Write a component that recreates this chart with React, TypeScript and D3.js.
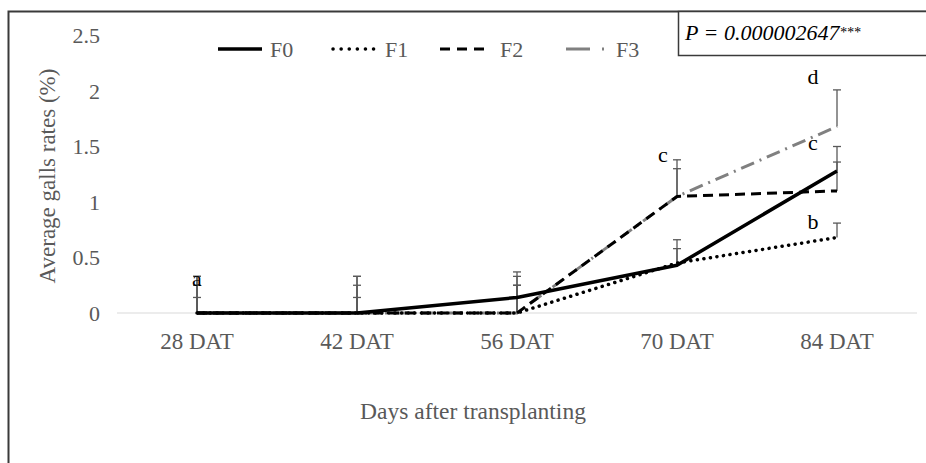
import * as d3 from 'd3'
import { useEffect, useRef } from 'react'

const categories = ['28 DAT', '42 DAT', '56 DAT', '70 DAT', '84 DAT']
const seriesNames = ['F0', 'F1', 'F2', 'F3']
const f0 = [0, 0, 0.14, 0.43, 1.28]
const f1 = [0, 0, 0, 0.45, 0.68]
const f2 = [0, 0, 0, 1.05, 1.1]
const f3 = [0, 0, 0, 1.05, 1.68]
const f0Err = [0.14, 0.14, 0.23, 0.23, 0.08]
const f1Err = [0.25, 0.25, 0.33, 0.13, 0.13]
const f2Err = [0.33, 0.33, 0.25, 0.33, 0.4]
const f3Err = [0.33, 0.33, 0.25, 0.25, 0.33]
const yTicks = [0, 0.5, 1, 1.5, 2, 2.5]
// significance letters: category, value the letter sits at, letter
const letterCats = ['28 DAT', '70 DAT', '84 DAT', '84 DAT', '84 DAT']
const letterVals = [0.3, 1.42, 2.12, 1.53, 0.82]
const letterText = ['a', 'c', 'd', 'c', 'b']
const pText = 'P = 0.000002647'

export default function App() {
  const ref = useRef<SVGSVGElement>(null)

  useEffect(() => {
    const svg = d3.select(ref.current)
    svg.selectAll('*').remove()

    const width = 926,
      height = 463
    const font = '"Liberation Serif", "Times New Roman", serif'
    const grey = '#595959'

    const x = d3.scalePoint<string>().domain(categories).range([117, 917]).padding(0.5)
    const y = d3.scaleLinear().domain([0, 2.5]).range([313, 35.5])

    svg.attr('width', width).attr('height', height)

    // outer frame (right/bottom edges lie outside the picture)
    svg
      .append('path')
      .attr('d', `M8.5,${height + 5} V11.5 H${width + 5}`)
      .attr('fill', 'none')
      .attr('stroke', '#3a3a3a')
      .attr('stroke-width', 2)

    // baseline
    svg
      .append('line')
      .attr('x1', 117)
      .attr('x2', 917)
      .attr('y1', y(0))
      .attr('y2', y(0))
      .attr('stroke', '#d9d9d9')
      .attr('stroke-width', 1.2)

    // y tick labels
    svg
      .append('g')
      .selectAll('text')
      .data(yTicks)
      .join('text')
      .attr('x', 100)
      .attr('y', (d) => y(d))
      .attr('dy', '0.35em')
      .attr('text-anchor', 'end')
      .attr('font-family', font)
      .attr('font-size', 22)
      .attr('fill', grey)
      .text((d) => d3.format('~g')(d))

    // x tick labels
    svg
      .append('g')
      .selectAll('text')
      .data(categories)
      .join('text')
      .attr('x', (d) => x(d)!)
      .attr('y', 349)
      .attr('text-anchor', 'middle')
      .attr('font-family', font)
      .attr('font-size', 23)
      .attr('fill', grey)
      .text((d) => d)

    // axis titles
    svg
      .append('text')
      .attr('transform', 'translate(55,176) rotate(-90)')
      .attr('text-anchor', 'middle')
      .attr('font-family', font)
      .attr('font-size', 23)
      .attr('fill', grey)
      .text('Average galls rates (%)')

    svg
      .append('text')
      .attr('x', 473)
      .attr('y', 419)
      .attr('text-anchor', 'middle')
      .attr('font-family', font)
      .attr('font-size', 23.5)
      .attr('fill', grey)
      .text('Days after transplanting')

    const values = [f0, f1, f2, f3]
    const errs = [f0Err, f1Err, f2Err, f3Err]
    const styles = [
      { stroke: '#000', width: 3.5, dash: null, cap: 'butt' },
      { stroke: '#000', width: 3.5, dash: '0.1 6.5', cap: 'round' },
      { stroke: '#000', width: 3, dash: '10 6', cap: 'butt' },
      { stroke: '#808080', width: 3, dash: '14 6 2 6', cap: 'butt' },
    ]

    // error bars (plus only)
    values.forEach((vals, s) => {
      const g = svg.append('g').attr('stroke', grey).attr('stroke-width', 1.3)
      vals.forEach((v, i) => {
        const cx = x(categories[i])!
        const top = y(v + errs[s][i])
        g.append('line').attr('x1', cx).attr('x2', cx).attr('y1', y(v)).attr('y2', top)
        g.append('line')
          .attr('x1', cx - 4)
          .attr('x2', cx + 4)
          .attr('y1', top)
          .attr('y2', top)
      })
    })

    const line = d3
      .line<number>()
      .x((_, i) => x(categories[i])!)
      .y((d) => y(d))

    // draw F3 first so the black lines sit on top
    ;[3, 2, 1, 0].forEach((s) => {
      const st = styles[s]
      const p = svg
        .append('path')
        .datum(values[s])
        .attr('d', line)
        .attr('fill', 'none')
        .attr('stroke', st.stroke)
        .attr('stroke-width', st.width)
        .attr('stroke-linecap', st.cap)
        .attr('stroke-linejoin', 'round')
      if (st.dash) p.attr('stroke-dasharray', st.dash)
    })

    // significance letters
    const letterShift: Record<string, number> = { '28 DAT': 0, '70 DAT': -14, '84 DAT': -24 }
    svg
      .append('g')
      .selectAll('text')
      .data(letterText)
      .join('text')
      .attr('x', (_, i) => x(letterCats[i])! + letterShift[letterCats[i]])
      .attr('y', (_, i) => y(letterVals[i]))
      .attr('dy', '0.3em')
      .attr('text-anchor', 'middle')
      .attr('font-family', font)
      .attr('font-size', 22)
      .attr('fill', '#000')
      .text((d) => d)

    // legend
    const legX = [218, 333, 440, 566]
    const legG = svg.append('g')
    seriesNames.forEach((name, s) => {
      const st = styles[s]
      const lx = legX[s]
      const l = legG
        .append('line')
        .attr('x1', lx)
        .attr('x2', s === 3 ? lx + 40 : lx + 44)
        .attr('y1', 49)
        .attr('y2', 49)
        .attr('stroke', st.stroke)
        .attr('stroke-width', st.width)
        .attr('stroke-linecap', st.cap)
      if (s === 1) l.attr('stroke-dasharray', '0.1 8')
      if (s === 2) l.attr('stroke-dasharray', '10 7')
      if (s === 3) l.attr('stroke-dasharray', '24 12 2 8')
      legG
        .append('text')
        .attr('x', lx + (s === 3 ? 50 : s === 2 ? 60 : 52))
        .attr('y', 49)
        .attr('dy', '0.35em')
        .attr('font-family', font)
        .attr('font-size', 22)
        .attr('fill', grey)
        .text(name)
    })

    // p-value box
    svg
      .append('rect')
      .attr('x', 678.5)
      .attr('y', 11.5)
      .attr('width', 300)
      .attr('height', 44)
      .attr('fill', '#fff')
      .attr('stroke', '#3a3a3a')
      .attr('stroke-width', 1.5)
    const pt = svg
      .append('text')
      .attr('x', 685)
      .attr('y', 40)
      .attr('font-family', font)
      .attr('font-size', 22)
      .attr('font-style', 'italic')
      .attr('fill', '#000')
    pt.append('tspan').text(pText)
    pt.append('tspan').attr('font-size', 14).attr('dy', -3).text('***')
  }, [])

  return (
    <svg
      ref={ref}
      style={{ position: 'absolute', left: 0, top: 0, background: '#fff' }}
    />
  )
}
